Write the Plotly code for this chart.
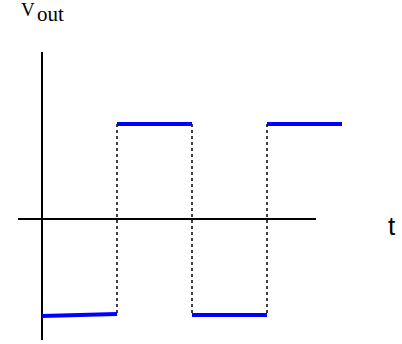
import plotly.graph_objects as go

# Data: square-wave output voltage (time in half-periods, voltage normalised)
high_t = [[1, 2], [3, 4]]
high_v = [[1.0, 1.0], [1.0, 1.0]]
low_t = [[0, 1], [2, 3]]
low_v = [[-1.02, -1.0], [-1.01, -1.01]]
edge_t = [1, 2, 3]
edge_v = [1.0, -1.01]
x_axis_span = [-0.32, 3.653]
y_axis_span = [-1.274, 1.758]
x_label = "t"
y_label_main = "V"
y_label_sub = "out"

W, H = 402, 344
x0px, xs = 42, 75.0
y0px, ys = 219, 95.0

fig = go.Figure()

# axes
fig.add_trace(go.Scatter(x=x_axis_span, y=[0, 0], mode="lines",
                         line=dict(color="black", width=2), hoverinfo="skip"))
fig.add_trace(go.Scatter(x=[0, 0], y=y_axis_span, mode="lines",
                         line=dict(color="black", width=2), hoverinfo="skip"))
# dotted transitions
for t in edge_t:
    fig.add_trace(go.Scatter(x=[t, t], y=edge_v, mode="lines",
                             line=dict(color="black", width=1.5, dash="dot"),
                             hoverinfo="skip"))
# levels
for tt, vv in zip(high_t + low_t, high_v + low_v):
    fig.add_trace(go.Scatter(x=tt, y=vv, mode="lines",
                             line=dict(color="#0000ff", width=4), hoverinfo="skip"))

def px(x):
    return x / W

def py(y):
    return 1 - y / H

serif = "Liberation Serif, Times New Roman, serif"
fig.add_annotation(text=x_label, xref="paper", yref="paper", x=px(392), y=py(226),
                   showarrow=False, xanchor="center", yanchor="middle",
                   font=dict(family="Liberation Sans", size=26, color="black"))
fig.add_annotation(text=y_label_main, xref="paper", yref="paper", x=px(19), y=py(9),
                   showarrow=False, xanchor="left", yanchor="middle",
                   font=dict(family=serif, size=19, color="black"))
fig.add_annotation(text=y_label_sub, xref="paper", yref="paper", x=px(35), y=py(14),
                   showarrow=False, xanchor="left", yanchor="middle",
                   font=dict(family=serif, size=21, color="black"))

fig.update_layout(
    width=W, height=H, margin=dict(l=0, r=0, t=0, b=0),
    paper_bgcolor="white", plot_bgcolor="white", showlegend=False,
    xaxis=dict(range=[-x0px / xs, (W - x0px) / xs], visible=False, fixedrange=True),
    yaxis=dict(range=[-(H - y0px) / ys, y0px / ys], visible=False, fixedrange=True),
)
fig.write_html("out.html", config={"displayModeBar": False},
               post_script="document.body.style.margin='0px';document.body.style.overflow='hidden';")
